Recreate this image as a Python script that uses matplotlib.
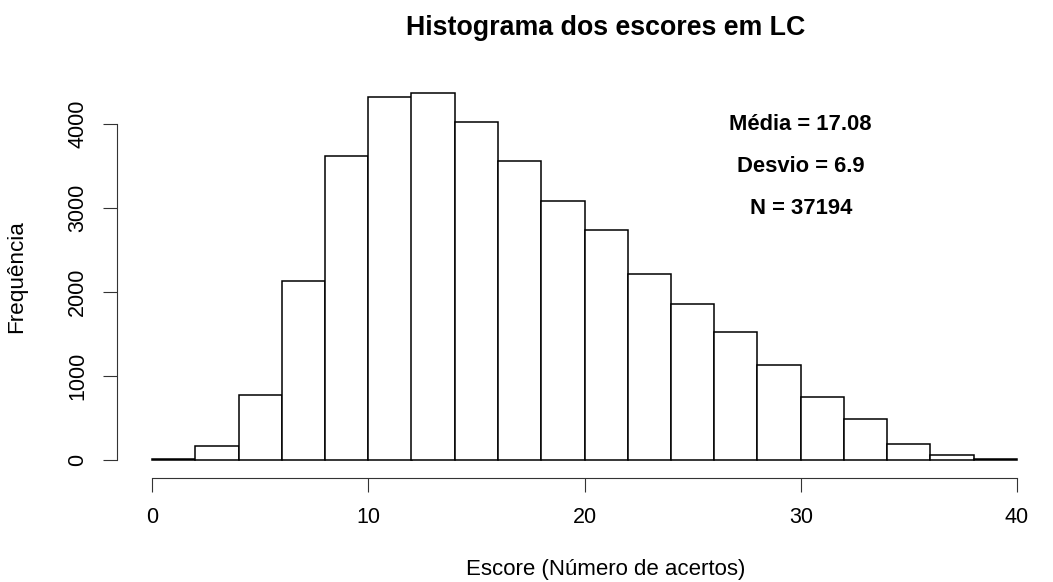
import matplotlib.pyplot as plt

# --- DATA ---
bin_edges = [0, 2, 4, 6, 8, 10, 12, 14, 16, 18, 20, 22, 24, 26, 28, 30, 32, 34, 36, 38, 40]
counts = [12, 167, 774, 2135, 3623, 4321, 4369, 4027, 3560, 3091,
          2738, 2214, 1865, 1528, 1131, 758, 488, 190, 60, 12]
stats_lines = ["Média = 17.08", "Desvio = 6.9", "N = 37194"]
stats_y = [4000, 3500, 3000]
x_ticks = [0, 10, 20, 30, 40]
y_ticks = [0, 1000, 2000, 3000, 4000]

plt.rcParams['font.family'] = ['Liberation Sans', 'DejaVu Sans']
BASE = 15.5

W, H = 1053, 582
fig = plt.figure(figsize=(W / 100, H / 100), dpi=100)
ax = fig.add_axes([117.4 / W, 1 - 478 / H, (1051.6 - 117.4) / W, (478 - 78) / H])

widths = [b - a for a, b in zip(bin_edges[:-1], bin_edges[1:])]
ax.bar(bin_edges[:-1], counts, width=widths, align='edge',
       color='white', edgecolor='black', linewidth=1.1)

for txt, yy in zip(stats_lines, stats_y):
    ax.text(30, yy, txt, ha='center', va='center', fontsize=15.8, fontweight='bold')

ax.set_xlim(-1.6, 41.6)
ax.set_ylim(-210, 4550)

# R-style axes: lines only span the tick range
for side in ['top', 'right']:
    ax.spines[side].set_visible(False)
ax.spines['left'].set_bounds(0, 4000)
ax.spines['bottom'].set_bounds(0, 40)
ax.spines['left'].set_color('#333333')
ax.spines['bottom'].set_color('#333333')

ax.set_xticks(x_ticks)
ax.set_yticks(y_ticks)
ax.set_yticklabels([str(v) for v in y_ticks], rotation=90, va='center')
ax.tick_params(axis='x', length=10, pad=11, labelsize=BASE, color='#333333')
ax.tick_params(axis='y', length=10, pad=11, labelsize=BASE, color='#333333')

fig.text(606 / W, 1 - 570 / H, "Escore (Número de acertos)",
         ha='center', va='center', fontsize=16)
fig.text(17 / W, 1 - 277 / H, "Frequência", rotation=90,
         ha='center', va='center', fontsize=16.2)
fig.text(606 / W, 1 - 28 / H, "Histograma dos escores em LC",
         ha='center', va='center', fontsize=19.3, fontweight='bold')

fig.savefig("out.png", dpi=100)
